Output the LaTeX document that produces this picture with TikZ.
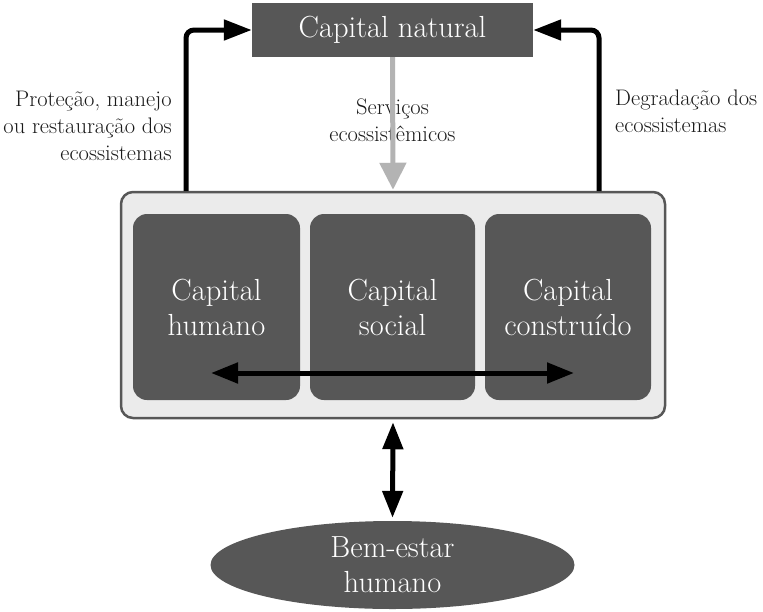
\documentclass[tikz,border=0pt]{standalone}
\usetikzlibrary{arrows.meta,shapes.geometric}
\definecolor{dk}{HTML}{575757}
\definecolor{lt}{HTML}{EBEBEB}
\definecolor{ga}{HTML}{B3B3B3}
\definecolor{tx}{HTML}{1A1A1A}
\begin{document}
\begin{tikzpicture}[x=1pt,y=-1pt,
  darkbox/.style={fill=dk,text=white,font=\fontsize{30.5}{35}\selectfont,align=center,inner sep=0pt},
  innerbox/.style={darkbox,rounded corners=14pt,minimum height=186pt},
  lbl/.style={text=tx,font=\fontsize{22.5}{27}\selectfont,inner sep=0pt},
  blkarrow/.style={line width=5pt,-{Triangle[length=28pt,width=20pt]}},
  dblarrow/.style={line width=5pt,{Triangle[length=27pt,width=20pt]}-{Triangle[length=27pt,width=20pt]}},
  grayarrow/.style={draw=ga,line width=5pt,-{Triangle[length=27pt,width=26pt]}}]
\useasboundingbox (0,0) rectangle (763,611);
% natural capital
\node[darkbox,minimum width=281pt,minimum height=54pt] (cn) at (392.5,30) {Capital natural};
% outer container
\node[draw=dk,line width=2.5pt,fill=lt,rounded corners=12pt,minimum width=544pt,minimum height=226pt] (outer) at (393,305) {};
% inner boxes
\node[innerbox,minimum width=167pt] (ch) at (216.5,307) {Capital\\humano};
\node[innerbox,minimum width=165pt] (cs) at (392.5,307) {Capital\\social};
\node[innerbox,minimum width=166pt] (cc) at (568,307) {Capital\\construído};
% wellbeing
\node[ellipse,darkbox,minimum width=364pt,minimum height=88pt] (be) at (392.5,565) {Bem-estar\\humano};
% labels
\node[lbl,align=center] (sv) at (392.5,120) {Serviços\\ecossistêmicos};
\node[lbl,align=right,anchor=east] (pl) at (172,126) {Proteção, manejo\\ou restauração dos\\ecossistemas};
\node[lbl,align=left,anchor=west] (dg) at (615,111) {Degradação dos\\ecossistemas};
% connectors
\coordinate (lb) at (186,191);
\coordinate (rb) at (599,191);
\draw[blkarrow,rounded corners=8pt] (lb) |- (cn.west);
\draw[blkarrow,rounded corners=8pt] (rb) |- (cn.east);
\draw[grayarrow,shorten >=1pt] (cn.south) -- (outer.north);
\coordinate (hl) at (211,373);
\coordinate (hr) at (574,373);
\draw[dblarrow] (hl) -- (hr);
\draw[dblarrow,shorten <=3pt,shorten >=3pt] (outer.south) -- (be.north);
\end{tikzpicture}
\end{document}
